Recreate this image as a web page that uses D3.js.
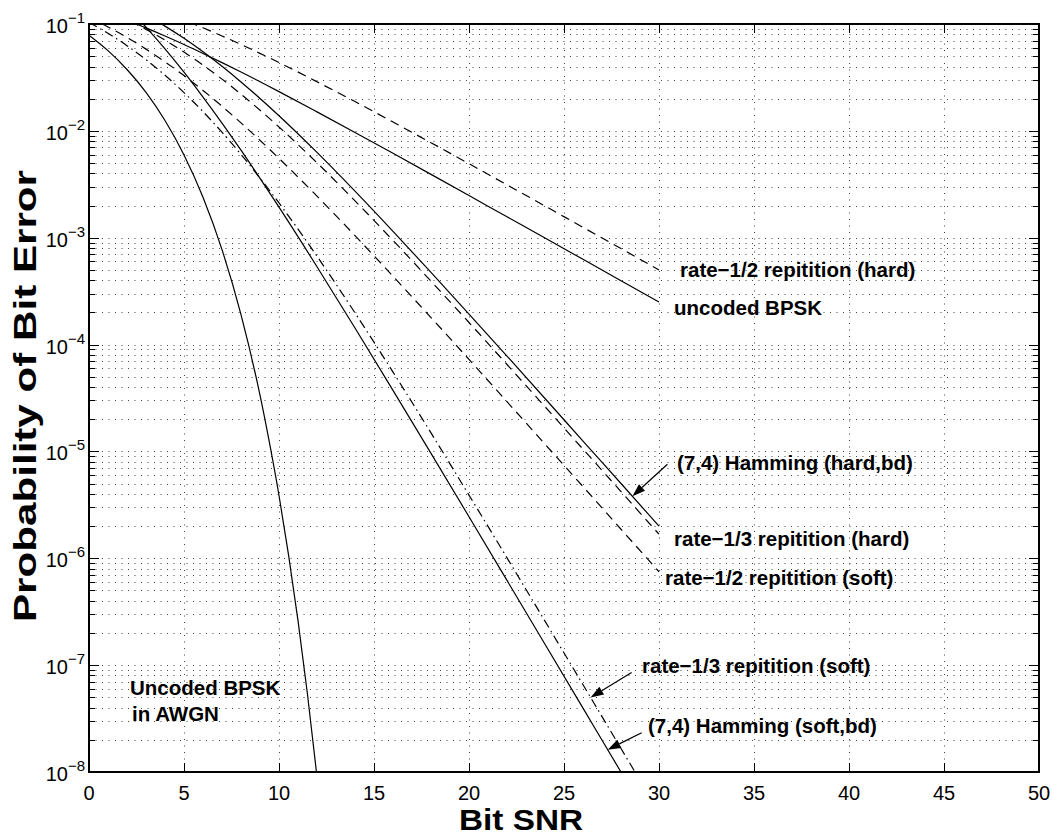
<!DOCTYPE html>
<html>
<head>
<meta charset="utf-8">
<script src="https://cdn.jsdelivr.net/npm/d3@7"></script>
<style>
  html, body { margin: 0; padding: 0; background: #fff; }
  svg { display: block; font-family: "Liberation Sans", Arial, Helvetica, sans-serif; }
</style>
</head>
<body>
<div id="chart"></div>
<script>
// --- data (Bit SNR in dB, probability of bit error) ---
const SNR_AWGN = [0, 1, 2, 3, 4, 5, 6, 7, 8, 9, 9.5, 10, 10.5, 11, 11.5, 12, 12.5];
const BER_AWGN = [0.0786, 0.0563, 0.0375, 0.0229, 0.0125, 0.00595, 0.00239, 7.73e-4, 1.91e-4,
                  3.36e-5, 1.2e-5, 3.87e-6, 1.08e-6, 2.61e-7, 5.31e-8, 9.0e-9, 1.2e-9];

const SNR = [0, 1, 2, 3, 4, 5, 6, 7, 8, 10, 12, 14, 16, 18, 20, 22, 24, 26, 28, 30];

const BER_UNCODED   = [0.1464, 0.1267, 0.1085, 0.0919, 0.0771, 0.0642, 0.0530, 0.0435, 0.0355, 0.0233,
                       0.01505, 0.00965, 0.00616, 0.003915, 0.002481, 0.00157, 9.95e-4, 6.28e-4, 3.96e-4, 2.5e-4];
const BER_REP2_HARD = [0.2113, 0.1892, 0.1676, 0.1467, 0.1269, 0.1087, 0.0921, 0.0773, 0.0643, 0.0436,
                       0.0288, 0.0188, 0.0121, 0.00774, 0.004926, 0.003125, 0.00198, 0.00125, 7.91e-4, 4.99e-4];
const BER_REP3_HARD = [0.1563, 0.1324, 0.1099, 0.0891, 0.0706, 0.0546, 0.0413, 0.0305, 0.02205, 0.01087,
                       0.005026, 0.002215, 9.43e-4, 3.92e-4, 1.61e-4, 6.51e-5, 2.62e-5, 1.05e-5, 4.21e-6, 1.68e-6];
const BER_HAM_HARD  = [0.2096, 0.1790, 0.1492, 0.1210, 0.0955, 0.0734, 0.0550, 0.0402, 0.0287, 0.01385,
                       0.00628, 0.002725, 0.001147, 4.74e-4, 1.93e-4, 7.8e-5, 3.13e-5, 1.25e-5, 5.01e-6, 2.0e-6];
const BER_REP2_SOFT = [0.1151, 0.0939, 0.0748, 0.0582, 0.0442, 0.0329, 0.0239, 0.0170, 0.01187, 0.005528,
                       0.002448, 0.001046, 4.36e-4, 1.79e-4, 7.26e-5, 2.92e-5, 1.17e-5, 4.69e-6, 1.87e-6, 7.48e-7];
const BER_REP3_SOFT = [0.1035, 0.0818, 0.0627, 0.0464, 0.0331, 0.0228, 0.01514, 0.00971, 0.00602, 0.002114,
                       6.71e-4, 1.98e-4, 5.53e-5, 1.49e-5, 3.90e-6, 1.01e-6, 2.58e-7, 6.56e-8, 1.66e-8, 4.19e-9];
const BER_HAM_SOFT  = [0.307, 0.214, 0.1443, 0.0935, 0.0585, 0.0354, 0.0207, 0.01183, 0.00659, 0.00193,
                       5.35e-4, 1.43e-4, 3.73e-5, 9.6e-6, 2.45e-6, 6.21e-7, 1.57e-7, 3.96e-8, 9.98e-9, 2.5e-9];

const X_TICKS = [0, 5, 10, 15, 20, 25, 30, 35, 40, 45, 50];
const Y_EXPONENTS = [-8, -7, -6, -5, -4, -3, -2, -1];

const W = 1052, H = 835;
const margin = { left: 89, top: 24, right: 13, bottom: 63 };

const x = d3.scaleLinear().domain([0, 50]).range([margin.left, W - margin.right]);
const y = d3.scaleLog().domain([1e-8, 1e-1]).range([H - margin.bottom, margin.top]);

const svg = d3.select("#chart").append("svg")
  .attr("width", W).attr("height", H);

svg.append("defs").append("clipPath").attr("id", "plot-clip")
  .append("rect")
  .attr("x", x(0)).attr("y", y(1e-1))
  .attr("width", x(50) - x(0)).attr("height", y(1e-8) - y(1e-1));

// --- grid: dotted, every log tick horizontally, major x ticks vertically ---
const minorY = [];
for (let e = -8; e < -1; e++) {
  for (let m = 1; m < 10; m++) minorY.push(m * Math.pow(10, e));
}
minorY.push(1e-1);

const grid = svg.append("g")
  .attr("stroke", "#444")
  .attr("stroke-width", 1)
  .attr("stroke-dasharray", "1,5.5");

grid.selectAll("line.h")
  .data(minorY.filter(v => v > 1e-8 && v < 1e-1))
  .join("line")
  .attr("class", "h")
  .attr("x1", x(0)).attr("x2", x(50))
  .attr("y1", d => Math.round(y(d)) + 0.5).attr("y2", d => Math.round(y(d)) + 0.5);

grid.selectAll("line.v")
  .data(X_TICKS.filter(d => d > 0 && d < 50))
  .join("line")
  .attr("class", "v")
  .attr("x1", d => Math.round(x(d)) + 0.5).attr("x2", d => Math.round(x(d)) + 0.5)
  .attr("y1", y(1e-1)).attr("y2", y(1e-8));

// --- ticks (inward, on all four sides) ---
const ticks = svg.append("g").attr("stroke", "#000").attr("stroke-width", 1);

minorY.forEach(d => {
  const major = Math.abs(Math.log10(d) - Math.round(Math.log10(d))) < 1e-9;
  const len = major ? 10 : 6;
  const yy = Math.round(y(d)) + 0.5;
  ticks.append("line").attr("x1", x(0)).attr("x2", x(0) + len).attr("y1", yy).attr("y2", yy);
  ticks.append("line").attr("x1", x(50)).attr("x2", x(50) - len).attr("y1", yy).attr("y2", yy);
});

X_TICKS.forEach(d => {
  const xx = Math.round(x(d)) + 0.5;
  ticks.append("line").attr("x1", xx).attr("x2", xx).attr("y1", y(1e-8)).attr("y2", y(1e-8) - 9);
  ticks.append("line").attr("x1", xx).attr("x2", xx).attr("y1", y(1e-1)).attr("y2", y(1e-1) + 9);
});

// --- curves ---
const line = d3.line()
  .x(d => x(d[0]))
  .y(d => y(d[1]))
  .curve(d3.curveMonotoneX);

const curves = [
  { xs: SNR_AWGN, ys: BER_AWGN,      dash: null },
  { xs: SNR,      ys: BER_UNCODED,   dash: null },
  { xs: SNR,      ys: BER_HAM_HARD,  dash: null },
  { xs: SNR,      ys: BER_HAM_SOFT,  dash: null },
  { xs: SNR,      ys: BER_REP2_HARD, dash: "9,6" },
  { xs: SNR,      ys: BER_REP3_HARD, dash: "9,6" },
  { xs: SNR,      ys: BER_REP2_SOFT, dash: "9,6" },
  { xs: SNR,      ys: BER_REP3_SOFT, dash: "9,4,1.5,4" }
];

svg.append("g")
  .attr("clip-path", "url(#plot-clip)")
  .selectAll("path")
  .data(curves)
  .join("path")
  .attr("fill", "none")
  .attr("stroke", "#000")
  .attr("stroke-width", 1.2)
  .attr("stroke-dasharray", d => d.dash)
  .attr("d", d => line(d.xs.map((v, i) => [v, d.ys[i]])));

// --- axes box ---
svg.append("rect")
  .attr("x", x(0)).attr("y", y(1e-1))
  .attr("width", x(50) - x(0)).attr("height", y(1e-8) - y(1e-1))
  .attr("fill", "none").attr("stroke", "#000").attr("stroke-width", 2);

// --- tick labels ---
svg.append("g")
  .attr("font-size", 20)
  .attr("text-anchor", "middle")
  .selectAll("text")
  .data(X_TICKS)
  .join("text")
  .attr("x", d => x(d))
  .attr("y", y(1e-8) + 28)
  .text(d => d);

const yl = svg.append("g").attr("text-anchor", "end");
Y_EXPONENTS.forEach(e => {
  const t = yl.append("text")
    .attr("x", x(0) - 4)
    .attr("y", y(Math.pow(10, e)) + 9);
  t.append("tspan").attr("font-size", 20).text("10");
  t.append("tspan").attr("font-size", 15).attr("dy", -10).text("\u2212" + (-e));
});

// --- axis labels ---
svg.append("text")
  .attr("x", 521).attr("y", 830)
  .attr("text-anchor", "middle")
  .attr("font-size", 30).attr("font-weight", "bold")
  .attr("textLength", 124).attr("lengthAdjust", "spacingAndGlyphs")
  .text("Bit SNR");

svg.append("text")
  .attr("transform", `translate(36,396) rotate(-90)`)
  .attr("text-anchor", "middle")
  .attr("font-size", 31).attr("font-weight", "bold")
  .attr("textLength", 452).attr("lengthAdjust", "spacingAndGlyphs")
  .text("Probability of Bit Error");

// --- annotations ---
function onCurve(xs, ys, xv) {
  for (let i = 0; i < xs.length - 1; i++) {
    if (xv >= xs[i] && xv <= xs[i + 1]) {
      const t = (xv - xs[i]) / (xs[i + 1] - xs[i]);
      const l = Math.log10(ys[i]) + t * (Math.log10(ys[i + 1]) - Math.log10(ys[i]));
      return [x(xv), y(Math.pow(10, l))];
    }
  }
  return null;
}

const labels = [
  { text: "rate\u22121/2 repitition (hard)", px: 680, py: 277 },
  { text: "uncoded BPSK",                    px: 674, py: 315 },
  { text: "(7,4) Hamming (hard,bd)",         px: 677, py: 470 },
  { text: "rate\u22121/3 repitition (hard)", px: 674, py: 546 },
  { text: "rate\u22121/2 repitition (soft)", px: 665, py: 585 },
  { text: "rate\u22121/3 repitition (soft)", px: 642, py: 673 },
  { text: "(7,4) Hamming (soft,bd)",         px: 648, py: 733 },
  { text: "Uncoded BPSK",                    px: 130, py: 695 },
  { text: "in AWGN",                         px: 132, py: 721 }
];

svg.append("g")
  .attr("font-size", 20.5).attr("font-weight", "bold")
  .selectAll("text")
  .data(labels)
  .join("text")
  .attr("x", d => d.px).attr("y", d => d.py)
  .text(d => d.text);

const arrows = [
  { xs: SNR, ys: BER_HAM_HARD,  at: 28.6, dx: 35, dy: -32 },
  { xs: SNR, ys: BER_REP3_SOFT, at: 26.4, dx: 41, dy: -25 },
  { xs: SNR, ys: BER_HAM_SOFT,  at: 27.3, dx: 34, dy: -17 }
];

const ag = svg.append("g");
arrows.forEach(a => {
  const [tx, ty] = onCurve(a.xs, a.ys, a.at);
  const sx = tx + a.dx, sy = ty + a.dy;
  const ang = Math.atan2(ty - sy, tx - sx);
  const len = 13, half = 4.5;
  const bx = tx - len * Math.cos(ang), by = ty - len * Math.sin(ang);
  ag.append("line")
    .attr("x1", sx).attr("y1", sy).attr("x2", bx).attr("y2", by)
    .attr("stroke", "#000").attr("stroke-width", 1.2);
  ag.append("path")
    .attr("d", `M${tx},${ty}L${bx - half * Math.sin(ang)},${by + half * Math.cos(ang)}L${bx + half * Math.sin(ang)},${by - half * Math.cos(ang)}Z`)
    .attr("fill", "#000");
});
</script>
</body>
</html>
